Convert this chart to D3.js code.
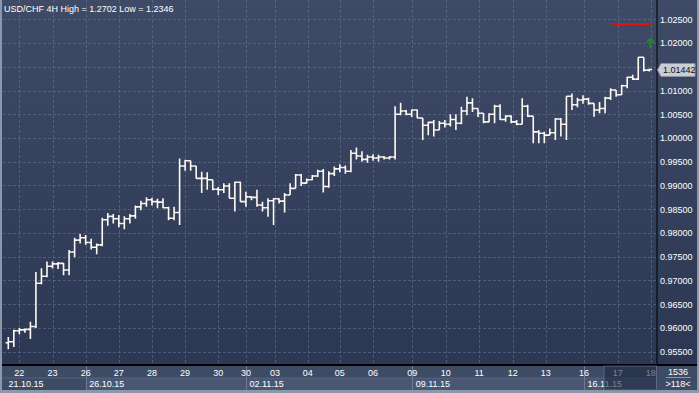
<!DOCTYPE html>
<html>
<head>
<meta charset="utf-8">
<script src="https://cdn.jsdelivr.net/npm/d3@7"></script>
<style>
  body { margin: 0; background: #2f3b56; }
  svg { display: block; }
  text { font-family: "Liberation Sans", Arial, sans-serif; }
</style>
</head>
<body>
<div id="chart"></div>
<script>
const width = 699, height = 393;

// 4H bars, USD/CHF
const opens = [0.9569,0.9571,0.9594,0.9596,0.9597,0.9603,0.9694,0.9709,0.9730,0.9735,0.9736,0.9722,0.9760,0.9785,0.9790,0.9780,0.9770,0.9775,0.9828,0.9835,0.9830,0.9820,0.9830,0.9836,0.9855,0.9862,0.9870,0.9866,
  0.9865,0.9853,0.9831,0.9843,0.9941,0.9952,0.9941,0.9915,0.9915,0.9912,0.9892,0.9891,0.9899,0.9873,0.9907,0.9866,0.9876,0.9875,0.9859,0.9853,0.9868,0.9872,0.9867,0.9880,0.9894,0.9922,0.9905,0.9912,0.9920,
  0.9930,0.9898,0.9925,0.9935,0.9938,0.9930,0.9968,0.9962,0.9955,0.9960,0.9958,0.9960,0.9958,
  0.9960,1.0050,1.0057,1.0050,1.0059,1.0042,1.0027,1.0033,1.0017,1.0031,1.0029,1.0039,1.0031,1.0057,1.0074,1.0062,1.0052,1.0034,1.0050,1.0067,1.0039,1.0046,1.0034,1.0029,1.0067,1.0046,1.0013,1.0010,1.0006,1.0011,1.0040,1.0029,
  1.0088,1.0070,1.0080,1.0082,1.0073,1.0059,1.0062,1.0084,1.0101,1.0091,1.0110,1.0128,1.0124,1.0170,1.0143];
const highs = [0.9581,0.9596,0.9600,0.9599,0.9613,0.9718,0.9726,0.9740,0.9740,0.9739,0.9737,0.9764,0.9790,0.9798,0.9796,0.9788,0.9778,0.9832,0.9842,0.9840,0.9838,0.9835,0.9840,0.9858,0.9868,0.9875,0.9874,0.9872,
  0.9873,0.9855,0.9855,0.9957,0.9954,0.9952,0.9941,0.9929,0.9928,0.9912,0.9897,0.9905,0.9905,0.9908,0.9908,0.9887,0.9877,0.9891,0.9866,0.9873,0.9873,0.9873,0.9884,0.9905,0.9924,0.9924,0.9915,0.9922,0.9933,
  0.9935,0.9930,0.9940,0.9945,0.9942,0.9975,0.9980,0.9972,0.9965,0.9966,0.9965,0.9962,0.9962,
  1.0067,1.0074,1.0059,1.0060,1.0060,1.0042,1.0034,1.0038,1.0036,1.0038,1.0050,1.0050,1.0066,1.0087,1.0084,1.0062,1.0052,1.0052,1.0070,1.0071,1.0048,1.0048,1.0038,1.0084,1.0070,1.0046,1.0017,1.0013,1.0020,1.0042,1.0042,
  1.0088,1.0094,1.0085,1.0090,1.0085,1.0073,1.0076,1.0087,1.0105,1.0101,1.0112,1.0129,1.0133,1.0170,1.0170,1.0146];
const lows = [0.9555,0.9560,0.9587,0.9590,0.9577,0.9600,0.9692,0.9707,0.9725,0.9724,0.9711,0.9711,0.9749,0.9778,0.9775,0.9765,0.9755,0.9772,0.9815,0.9820,0.9812,0.9808,0.9820,0.9830,0.9848,0.9855,0.9858,0.9852,
  0.9852,0.9827,0.9827,0.9817,0.9931,0.9931,0.9915,0.9884,0.9891,0.9890,0.9880,0.9884,0.9873,0.9845,0.9866,0.9855,0.9869,0.9855,0.9845,0.9834,0.9817,0.9862,0.9843,0.9880,0.9894,0.9899,0.9904,0.9911,0.9918,
  0.9885,0.9895,0.9920,0.9928,0.9925,0.9928,0.9955,0.9950,0.9948,0.9952,0.9950,0.9955,0.9955,
  0.9955,1.0048,1.0048,1.0044,1.0042,0.9996,1.0006,1.0003,1.0017,1.0022,1.0024,1.0017,1.0029,1.0048,1.0055,1.0044,1.0031,1.0033,1.0031,1.0038,1.0034,1.0031,1.0027,1.0029,1.0044,0.9989,0.9989,0.9989,1.0006,0.9996,1.0003,
  0.9996,1.0059,1.0065,1.0072,1.0070,1.0045,1.0052,1.0052,1.0080,1.0087,1.0091,1.0105,1.0122,1.0122,1.0140,1.0140];
const closes = [0.9571,0.9594,0.9596,0.9597,0.9603,0.9694,0.9709,0.9730,0.9735,0.9736,0.9722,0.9760,0.9785,0.9790,0.9780,0.9770,0.9775,0.9828,0.9835,0.9830,0.9820,0.9830,0.9836,0.9855,0.9862,0.9870,0.9866,0.9865,
  0.9853,0.9831,0.9843,0.9941,0.9952,0.9941,0.9915,0.9915,0.9912,0.9892,0.9891,0.9899,0.9873,0.9907,0.9866,0.9876,0.9875,0.9859,0.9853,0.9868,0.9872,0.9867,0.9880,0.9894,0.9922,0.9905,0.9912,0.9920,0.9930,
  0.9898,0.9925,0.9935,0.9938,0.9930,0.9968,0.9962,0.9955,0.9960,0.9958,0.9960,0.9958,0.9960,
  1.0050,1.0057,1.0050,1.0059,1.0042,1.0027,1.0033,1.0017,1.0031,1.0029,1.0039,1.0031,1.0057,1.0074,1.0062,1.0052,1.0034,1.0050,1.0067,1.0039,1.0046,1.0034,1.0029,1.0067,1.0046,1.0013,1.0010,1.0006,1.0011,1.0040,1.0029,1.0088,
  1.0070,1.0080,1.0082,1.0073,1.0059,1.0062,1.0084,1.0101,1.0091,1.0110,1.0128,1.0124,1.0170,1.0143,1.01442];

// day labels sit on the bar index where the day starts
const dayLabels = ["22","23","26","27","28","29","30","30","03","04","05","06","09","10","11","12","13","16","17","18"];
const dayIndex  = [2,8,14,20,26,32,38,43,48.25,54.2,60,66,73.1,79.15,85.2,91.3,97.25,104.2,110.3,116.25];
const weekLabels = ["21.10.15","26.10.15","02.11.15","09.11.15","16.11.15"];
const weekIndex  = [-0.6,14,43,73.1,104.2];
const yTicks = d3.range(0.955, 1.02501, 0.005);

const title = "USD/CHF 4H High = 1.2702 Low = 1.2346";
const redLevel = 1.0240, redFrom = 109.3, redTo = 116.4;
const arrowLevel = 1.0199, arrowIndex = 116.2;
const barCount = "1536", barInfo = ">118<";

const plotRight = 656.5, plotBottom = 364;

const x = d3.scaleLinear().domain([0, opens.length - 1]).range([8.3, 649.3]);
const y = d3.scaleLinear().domain([0.955, 1.025]).range([351.7, 19.3]);
const half = (x(1) - x(0)) / 2;

const svg = d3.select("#chart").append("svg")
    .attr("width", width)
    .attr("height", height);

const defs = svg.append("defs");
const grad = defs.append("linearGradient").attr("id", "bg").attr("x1", 0).attr("y1", 0).attr("x2", 0).attr("y2", 1);
grad.append("stop").attr("offset", "0%").attr("stop-color", "#3e4a66");
grad.append("stop").attr("offset", "100%").attr("stop-color", "#2c3853");

svg.append("rect").attr("width", width).attr("height", plotBottom).attr("fill", "url(#bg)");

// grid
const grid = svg.append("g").attr("stroke", "#6473909a").attr("stroke-dasharray", "3,2").attr("stroke-width", 1);
grid.selectAll("line.h").data(yTicks).join("line")
    .attr("x1", 3).attr("x2", plotRight)
    .attr("y1", d => Math.round(y(d)) + 0.5).attr("y2", d => Math.round(y(d)) + 0.5);
grid.selectAll("line.v").data(dayIndex).join("line")
    .attr("x1", d => Math.round(x(d)) + 0.5).attr("x2", d => Math.round(x(d)) + 0.5)
    .attr("y1", 0).attr("y2", plotBottom);

// OHLC bars
const bars = svg.append("g").attr("stroke", "#fffaf2").attr("stroke-width", 1.6).attr("fill", "none");
bars.selectAll("path").data(opens).join("path")
    .attr("d", (o, i) => {
      const cx = x(i);
      return `M${cx},${y(highs[i])}V${y(lows[i])}` +
             `M${cx - half},${y(o)}H${cx}` +
             `M${cx},${y(closes[i])}H${cx + half}`;
    });

// red level and green arrow
svg.append("line")
    .attr("x1", x(redFrom)).attr("x2", x(redTo))
    .attr("y1", y(redLevel)).attr("y2", y(redLevel))
    .attr("stroke", "#e31212").attr("stroke-width", 2);
const ax = x(arrowIndex), ay = y(arrowLevel);
svg.append("path")
    .attr("d", `M${ax},${ay - 5}L${ax - 3.5},${ay - 1}M${ax},${ay - 5}L${ax + 3.5},${ay - 1}M${ax},${ay - 5}V${ay + 5}`)
    .attr("stroke", "#1e8c22").attr("stroke-width", 2).attr("fill", "none");

// title
svg.append("text").attr("x", 4).attr("y", 12)
    .attr("fill", "#ffffff").attr("font-size", 9).text(title);

// right axis; the tick label under the last-price box stays hidden
const last = closes[closes.length - 1], ly = Math.round(y(last));
svg.append("line").attr("x1", plotRight + 0.5).attr("x2", plotRight + 0.5)
    .attr("y1", 0).attr("y2", plotBottom).attr("stroke", "#000").attr("stroke-width", 1);
svg.append("g").selectAll("text").data(yTicks.filter(d => Math.abs(y(d) - ly) > 9)).join("text")
    .attr("x", 660).attr("y", d => y(d) + 3.3)
    .attr("fill", "#ffffff").attr("font-size", 9)
    .text(d => d3.format(".5f")(d));

// last price box
svg.append("path")
    .attr("d", `M657.5,${ly}L661,${ly - 6.5}H695V${ly + 6.5}H661Z`)
    .attr("fill", "#c9cdd4").attr("stroke", "#8d939e");
svg.append("text").attr("x", 663).attr("y", ly + 3.3)
    .attr("fill", "#111").attr("font-size", 9).text(d3.format(".5f")(last));

// bottom strip
svg.append("rect").attr("y", plotBottom).attr("width", width).attr("height", height - plotBottom).attr("fill", "#3e4b65");
svg.append("rect").attr("x", x(weekIndex[1])).attr("y", 378).attr("width", plotRight - x(weekIndex[1])).attr("height", 12).attr("fill", "#4a5772");
svg.append("line").attr("x1", 0).attr("x2", plotRight).attr("y1", 378).attr("y2", 378).attr("stroke", "#56637e");
svg.append("rect").attr("y", 390).attr("width", width).attr("height", 3).attr("fill", "#8c97ab");
svg.append("line").attr("x1", 0).attr("x2", width).attr("y1", plotBottom + 1).attr("y2", plotBottom + 1)
    .attr("stroke", "#000").attr("stroke-width", 2);

const bottom = svg.append("g");
bottom.selectAll("line").data(weekIndex.slice(1)).join("line")
    .attr("x1", d => Math.round(x(d)) + 0.5).attr("x2", d => Math.round(x(d)) + 0.5)
    .attr("y1", plotBottom + 2).attr("y2", 390).attr("stroke", "#6d7b97");
bottom.selectAll("text.day").data(dayLabels).join("text")
    .attr("class", "day")
    .attr("x", (d, i) => x(dayIndex[i])).attr("y", 376)
    .attr("text-anchor", "middle").attr("fill", "#ffffff").attr("font-size", 9)
    .text(d => d);
bottom.selectAll("text.week").data(weekLabels).join("text")
    .attr("class", "week")
    .attr("x", (d, i) => x(weekIndex[i]) + 3.5).attr("y", 387)
    .attr("fill", "#ffffff").attr("font-size", 9)
    .text(d => d);

// shaded range at the far right of the time strip
svg.append("rect").attr("x", 604).attr("y", plotBottom + 2).attr("width", plotRight - 604).attr("height", 24)
    .attr("fill", "#1e2940").attr("opacity", 0.6).attr("stroke", "#6d7b97");

// corner box
svg.append("rect").attr("x", plotRight + 1).attr("y", plotBottom + 2).attr("width", width - plotRight - 1).attr("height", 24).attr("fill", "#3e4b65");
svg.append("text").attr("x", 678).attr("y", 375).attr("text-anchor", "middle")
    .attr("fill", "#fff").attr("font-size", 9).text(barCount);
svg.append("line").attr("x1", 666).attr("x2", 691).attr("y1", 377.5).attr("y2", 377.5).attr("stroke", "#8c97ab");
svg.append("text").attr("x", 678).attr("y", 387).attr("text-anchor", "middle")
    .attr("fill", "#fff").attr("font-size", 9).text(barInfo);

// side borders
svg.append("rect").attr("width", 2).attr("height", height).attr("fill", "#8c97ab");
svg.append("rect").attr("x", width - 2).attr("width", 2).attr("height", height).attr("fill", "#8c97ab");
</script>
</body>
</html>
